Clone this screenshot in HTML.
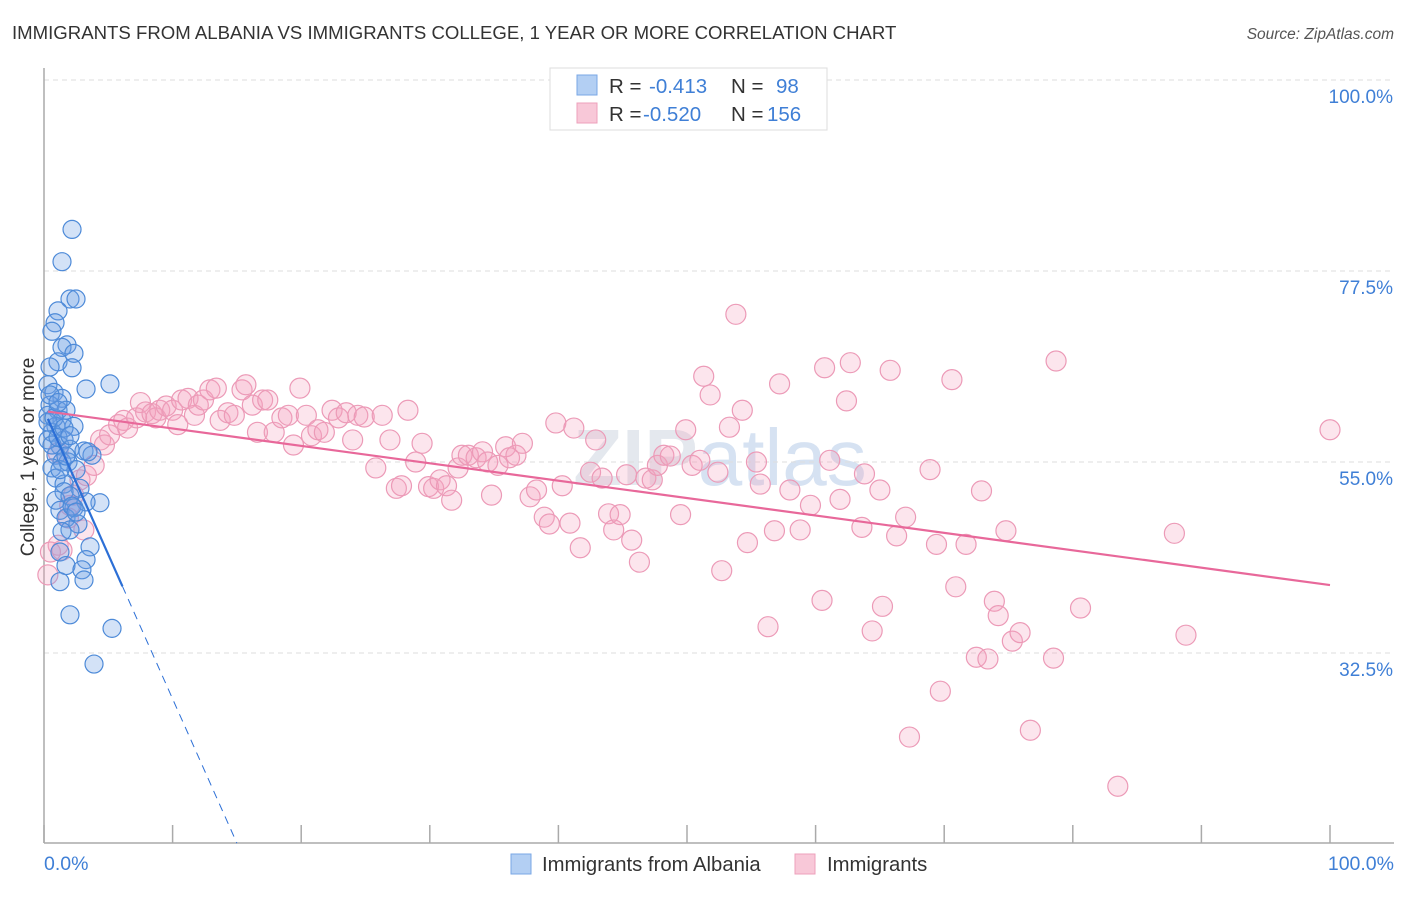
<!DOCTYPE html>
<html><head><meta charset="utf-8"><style>
body{margin:0;background:#fff;font-family:"Liberation Sans",sans-serif}
svg text{font-family:"Liberation Sans",sans-serif}
</style></head><body>
<svg id="chart" width="1406" height="892" viewBox="0 0 1406 892" xmlns="http://www.w3.org/2000/svg">
<text x="12" y="39" font-size="18.6" fill="#333">IMMIGRANTS FROM ALBANIA VS IMMIGRANTS COLLEGE, 1 YEAR OR MORE CORRELATION CHART</text>
<text x="1394" y="39" font-size="15.5" fill="#555" font-style="italic" text-anchor="end">Source: ZipAtlas.com</text>
<text x="720" y="485" font-size="80" fill="#e4e8ee" text-anchor="middle" font-weight="bold">ZIP<tspan font-weight="normal" fill="#d6e2f2">atlas</tspan></text>
<g id="grid"></g>
<g id="axes"></g>
<g id="pinkPts"></g>
<g id="bluePts"></g>
<g id="lines"></g>
<text transform="translate(34,457) rotate(-90)" font-size="19" fill="#333" text-anchor="middle">College, 1 year or more</text>
<text x="44" y="870" font-size="19.5" fill="#3f7fd6">0.0%</text>
<text x="1394" y="870" font-size="19.5" fill="#3f7fd6" text-anchor="end">100.0%</text>
<g>
<rect x="550" y="68" width="277" height="62" fill="#fff" stroke="#ddd"/>
<rect x="577" y="75" width="20" height="20" fill="#b3cff3" stroke="#7aa7e6"/>
<rect x="577" y="103" width="20" height="20" fill="#f8c8d8" stroke="#eea0bb"/>
<text x="609" y="93" font-size="20.5" fill="#333">R = <tspan fill="#3f7fd6" x="649">-0.413</tspan><tspan x="731">N =</tspan><tspan fill="#3f7fd6" x="776">98</tspan></text>
<text x="609" y="121" font-size="20.5" fill="#333">R = <tspan fill="#3f7fd6" x="643">-0.520</tspan><tspan x="731">N =</tspan><tspan fill="#3f7fd6" x="767">156</tspan></text>
</g>
<g>
<rect x="511" y="854" width="20" height="20" fill="#b3cff3" stroke="#7aa7e6"/>
<text x="542" y="871" font-size="20.3" fill="#333">Immigrants from Albania</text>
<rect x="795" y="854" width="20" height="20" fill="#f8c8d8" stroke="#eea0bb"/>
<text x="827" y="871" font-size="20.3" fill="#333">Immigrants</text>
</g>
</svg>
<script>
const yTicks=[100,77.5,55,32.5];
const yTickLabels=["100.0%","77.5%","55.0%","32.5%"];
const xTicks=[0,10,20,30,40,50,60,70,80,90,100];
const blueX=[2.18,1.40,2.02,2.49,1.09,0.86,0.62,1.79,1.40,2.33,1.09,2.18,0.47,5.13,3.27,0.31,0.78,1.40,0.47,1.09,1.71,0.31,1.40,0.93,2.33,0.62,1.56,0.31,1.24,2.02,3.11,3.73,0.93,1.40,0.62,1.87,2.49,3.42,0.93,1.56,2.80,4.35,1.56,0.93,2.02,3.27,1.24,2.33,1.71,2.64,2.02,3.58,1.24,3.27,1.71,2.95,1.24,3.11,2.02,5.29,3.89,1.24,0.31,0.62,1.71,1.09,2.18,1.40,2.49,0.78,0.47,1.09,1.56,2.02];
const blueY=[82.4,78.6,74.2,74.2,72.8,71.4,70.4,68.8,68.5,67.8,66.8,66.1,66.2,64.2,63.6,64.1,63.2,62.5,61.7,61.1,61.1,60.5,59.9,59.2,59.2,58.5,57.6,57.6,56.9,56.5,56.3,55.8,55.8,55.0,54.3,55.0,54.1,56.2,53.1,52.4,51.9,50.2,51.5,50.5,51.0,50.3,49.3,49.6,48.4,47.7,47.0,45.0,44.4,43.5,42.8,42.3,40.9,41.1,37.0,35.4,31.2,54.1,59.7,57.0,55.7,57.9,49.8,46.8,49.1,60.2,62.9,62.0,59.0,58.1];
const pinkX=[0.3,1.1,1.4,1.9,2.3,2.8,3.3,3.9,4.4,4.7,5.1,5.8,6.2,6.5,7.2,7.5,7.9,8.4,8.7,9.0,9.5,10.0,10.4,10.7,11.2,11.7,12.0,12.4,12.9,13.4,13.7,14.3,14.8,15.4,15.7,16.2,16.6,17.0,17.4,17.9,18.5,19.0,19.4,19.9,20.4,20.8,21.3,21.8,22.4,22.9,23.5,24.0,24.4,24.9,25.8,26.3,26.9,27.4,27.8,28.3,28.9,29.4,29.9,30.3,30.8,31.3,31.7,32.2,32.5,33.0,33.6,34.1,34.5,34.8,35.3,35.9,36.2,36.7,37.2,37.8,38.3,38.9,39.3,39.8,40.3,40.9,41.2,41.7,42.5,42.9,43.4,43.9,44.3,44.8,45.3,45.7,46.3,46.8,47.3,47.7,48.2,48.7,49.5,49.9,50.4,51.0,51.3,51.8,52.4,52.7,53.3,54.3,53.8,54.7,55.4,55.7,56.3,56.8,57.2,58.0,58.8,59.6,60.5,60.7,61.1,61.9,62.4,62.7,63.6,64.4,65.0,65.2,65.8,66.3,67.0,67.3,69.4,69.7,70.6,70.9,71.7,72.5,72.9,73.4,73.9,74.2,74.8,75.3,75.9,76.7,78.5,78.7,80.6,83.5,87.9,88.8,100.0,63.8,68.9,1.1,0.5,2.0,3.1];
const pinkY=[41.7,45.2,44.6,48.4,51.1,52.9,53.4,54.6,57.6,57.0,58.2,59.4,59.9,59.0,60.2,62.0,60.9,60.7,60.2,61.1,61.6,61.1,59.4,62.3,62.5,60.5,61.7,62.3,63.5,63.7,59.9,60.8,60.5,63.5,64.1,61.7,58.5,62.3,62.3,58.5,60.2,60.5,57.0,63.7,60.5,58.1,58.8,58.5,61.1,60.2,60.8,57.6,60.5,60.3,54.3,60.5,57.6,51.9,52.2,61.1,55.0,57.2,52.1,51.9,52.9,52.2,50.5,54.3,55.8,55.8,55.5,56.2,55.0,51.1,54.6,56.8,55.5,55.8,57.2,50.9,51.7,48.5,47.7,59.6,52.2,47.8,59.0,44.9,53.8,57.6,53.1,48.9,47.0,48.8,53.5,45.8,43.2,53.1,52.9,54.6,55.8,55.7,48.8,58.8,54.6,55.2,65.1,62.9,53.8,42.2,59.1,61.1,72.4,45.5,55.0,52.4,35.6,46.9,64.2,51.7,47.0,49.9,38.7,66.1,55.2,50.6,62.2,66.7,47.3,35.1,51.7,38.0,65.8,46.3,48.5,22.6,45.3,28.0,64.7,40.3,45.3,32.0,51.6,31.8,38.6,36.9,46.9,33.9,34.9,23.4,31.9,66.9,37.8,16.8,46.6,34.6,58.8,53.6,54.1,56.1,44.4,49.9,47.0];
const blueTrend=[61.1,-3.4];
const pinkTrend=[61.0,-0.205];
const xs=v=>44+v*12.86;
const ys=v=>80+(100-v)*8.489;
const NS="http://www.w3.org/2000/svg";
function mk(tag,attrs,parent){const e=document.createElementNS(NS,tag);for(const k in attrs)e.setAttribute(k,attrs[k]);parent.appendChild(e);return e;}
const grid=document.getElementById('grid'),axes=document.getElementById('axes');
yTicks.forEach((t,i)=>{
  const l=mk('line',{x1:44,x2:1394,y1:ys(t),y2:ys(t),stroke:'#ddd','stroke-dasharray':'5,4'},grid);
  
  
  const tx=mk('text',{x:1393,y:ys(t)+23,'font-size':19,fill:'#3f7fd6','text-anchor':'end'},grid);
  tx.textContent=yTickLabels[i];
  
  
});
const yax=mk('line',{x1:44,x2:44,y1:68,y2:843,stroke:'#aaa','stroke-width':1.5},axes);


const xax=mk('line',{x1:44,x2:1394,y1:843,y2:843,stroke:'#aaa','stroke-width':1.5},axes);


xTicks.forEach(t=>{
  const l=mk('line',{x1:xs(t),x2:xs(t),y1:825,y2:843,stroke:'#aaa','stroke-width':1.5},axes);
  
  
});
const pg=document.getElementById('pinkPts');
pinkX.forEach((x,i)=>{
  const c=mk('circle',{cx:xs(x),cy:ys(pinkY[i]),r:10,fill:'rgba(244,160,190,0.28)',stroke:'#ec9ab7','stroke-width':1.2},pg);
  
  
});
const bg=document.getElementById('bluePts');
blueX.forEach((x,i)=>{
  const c=mk('circle',{cx:xs(x),cy:ys(blueY[i]),r:9,fill:'rgba(110,160,230,0.3)',stroke:'#4d8ad8','stroke-width':1.2},bg);
  
  
});
const lg=document.getElementById('lines');
const bf=x=>blueTrend[0]+blueTrend[1]*x, pf=x=>pinkTrend[0]+pinkTrend[1]*x;
const pl=mk('line',{x1:xs(0.3),y1:ys(pf(0.3)),x2:xs(100),y2:ys(pf(100)),stroke:'#e8689a','stroke-width':2.2},lg);


const b1=mk('line',{x1:xs(0.3),y1:ys(bf(0.3)),x2:xs(6.1),y2:ys(bf(6.1)),stroke:'#2c6fd6','stroke-width':2.2},lg);


const xEnd=(10.1-blueTrend[0])/blueTrend[1];
const b2=mk('line',{x1:xs(6.1),y1:ys(bf(6.1)),x2:xs(xEnd),y2:ys(bf(xEnd)),stroke:'#2c6fd6','stroke-width':1,'stroke-dasharray':'8,6'},lg);


</script>
</body></html>
